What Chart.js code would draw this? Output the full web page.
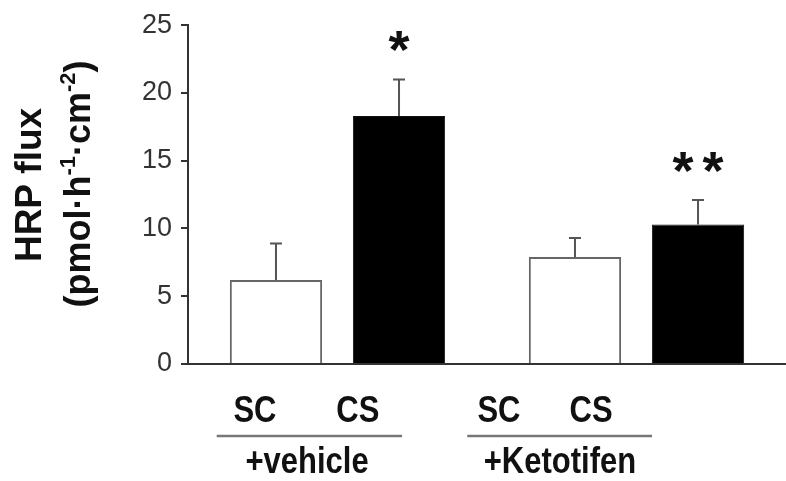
<!DOCTYPE html>
<html>
<head>
<meta charset="utf-8">
<script src="https://cdn.jsdelivr.net/npm/chart.js@4"></script>
<style>
  html, body { margin: 0; padding: 0; background: #fff; }
  #wrap { width: 786px; height: 481px; position: relative; }
</style>
</head>
<body>
<div id="wrap"><canvas id="chart"></canvas></div>
<script>
// groups on the x axis and the two conditions inside each group
const groups = ['+vehicle', '+Ketotifen'];
const conditions = ['SC', 'CS'];

// HRP flux means and upper error (SEM) per group
const scValues = [6.2, 7.9];
const csValues = [18.3, 10.3];
const scErrors = [2.7, 1.4];
const csErrors = [2.7, 1.8];

// significance marks above the CS bars
const csMarks = ['*', '**'];

const yTitle = 'HRP flux';
const yUnit = [['(pmol·h', false], ['-1', true], ['·cm', false], ['-2', true], [')', false]];

const FONT = '"Liberation Sans", Arial, sans-serif';

// error bars, one-sided (up)
const errorBars = {
  id: 'errorBars',
  afterDatasetsDraw(chart) {
    const ctx = chart.ctx;
    const y = chart.scales.y;
    chart.data.datasets.forEach((ds, di) => {
      const meta = chart.getDatasetMeta(di);
      meta.data.forEach((bar, i) => {
        const top = y.getPixelForValue(ds.data[i] + ds.errors[i]);
        ctx.save();
        ctx.strokeStyle = '#555';
        ctx.lineWidth = 2;
        ctx.beginPath();
        ctx.moveTo(bar.x, bar.y);
        ctx.lineTo(bar.x, top);
        ctx.moveTo(bar.x - 6, top);
        ctx.lineTo(bar.x + 6, top);
        ctx.stroke();
        // significance stars
        if (ds.marks && ds.marks[i]) {
          ctx.fillStyle = '#111';
          ctx.font = 'bold 54px ' + FONT;
          ctx.textAlign = 'center';
          ctx.textBaseline = 'alphabetic';
          const chars = ds.marks[i].split('');
          const gap = 30;
          chars.forEach((c, k) => {
            const cx = bar.x + (k - (chars.length - 1) / 2) * gap;
            ctx.fillText(c, cx, top - 11);
          });
        }
        ctx.restore();
      });
    });
  }
};

// y title (two rotated lines) and the grouped x labels
const labelsPlugin = {
  id: 'labelsPlugin',
  afterDraw(chart) {
    const ctx = chart.ctx;
    const a = chart.chartArea;
    const w = a.right - a.left;
    const fx = f => a.left + f * w;

    ctx.save();
    ctx.fillStyle = '#111';
    // y title line 1
    ctx.save();
    ctx.translate(31, 185);
    ctx.rotate(-Math.PI / 2);
    ctx.font = 'bold 37px ' + FONT;
    ctx.textAlign = 'center';
    ctx.textBaseline = 'middle';
    ctx.fillText(yTitle, 0, 0);
    ctx.restore();

    // y title line 2 with superscripts
    ctx.save();
    ctx.translate(80, 184);
    ctx.rotate(-Math.PI / 2);
    ctx.textBaseline = 'middle';
    ctx.textAlign = 'left';
    const big = 'bold 36px ' + FONT, small = 'bold 22px ' + FONT;
    let total = 0;
    yUnit.forEach(([t, sup]) => { ctx.font = sup ? small : big; total += ctx.measureText(t).width; });
    let x = -total / 2;
    yUnit.forEach(([t, sup]) => {
      ctx.font = sup ? small : big;
      ctx.fillText(t, x, sup ? -11 : 0);
      x += ctx.measureText(t).width;
    });
    ctx.restore();

    // condition labels and group labels under the axis
    const condPos = [[0.112, 0.284], [0.520, 0.674]];
    const linePos = [[0.048, 0.358], [0.467, 0.776]];
    const groupPos = [0.199, 0.622];
    ctx.textAlign = 'center';
    ctx.textBaseline = 'alphabetic';
    groups.forEach((g, gi) => {
      conditions.forEach((c, ci) => {
        ctx.save();
        ctx.translate(fx(condPos[gi][ci]), 422);
        ctx.scale(1, 1.18);
        ctx.font = 'bold 31px ' + FONT;
        ctx.fillText(c, 0, 0);
        ctx.restore();
      });
      ctx.strokeStyle = '#777';
      ctx.lineWidth = 2.5;
      ctx.beginPath();
      ctx.moveTo(fx(linePos[gi][0]), 436);
      ctx.lineTo(fx(linePos[gi][1]), 436);
      ctx.stroke();
      ctx.save();
      ctx.translate(fx(groupPos[gi]), 473);
      ctx.scale(1, 1.18);
      ctx.font = 'bold 31px ' + FONT;
      ctx.fillText(g, 0, 0);
      ctx.restore();
    });
    ctx.restore();
  }
};

new Chart(document.getElementById('chart'), {
  type: 'bar',
  data: {
    labels: groups,
    datasets: [
      {
        label: 'SC',
        data: scValues,
        errors: scErrors,
        backgroundColor: '#fff',
        borderColor: '#666',
        borderWidth: 2
      },
      {
        label: 'CS',
        data: csValues,
        errors: csErrors,
        marks: csMarks,
        backgroundColor: '#000',
        borderColor: '#111',
        borderWidth: 1
      }
    ]
  },
  options: {
    responsive: true,
    maintainAspectRatio: false,
    animation: false,
    categoryPercentage: 0.823,
    barPercentage: 0.75,
    layout: { padding: { left: 0, top: 24, right: 0, bottom: 109 } },
    plugins: {
      legend: { display: false },
      title: { display: false },
      tooltip: { enabled: false }
    },
    scales: {
      x: {
        ticks: { display: false },
        grid: { display: false },
        border: { display: true, color: '#333', width: 2 }
      },
      y: {
        min: 0,
        max: 25,
        ticks: {
          stepSize: 5,
          color: '#333',
          padding: 9,
          font: { family: FONT, size: 27 }
        },
        grid: { drawOnChartArea: false, drawTicks: true, tickLength: 7, color: '#333', lineWidth: 2 },
        border: { display: true, color: '#333', width: 2 },
        afterFit(scale) { scale.width = 188; }
      }
    }
  },
  plugins: [errorBars, labelsPlugin]
});
</script>
</body>
</html>
